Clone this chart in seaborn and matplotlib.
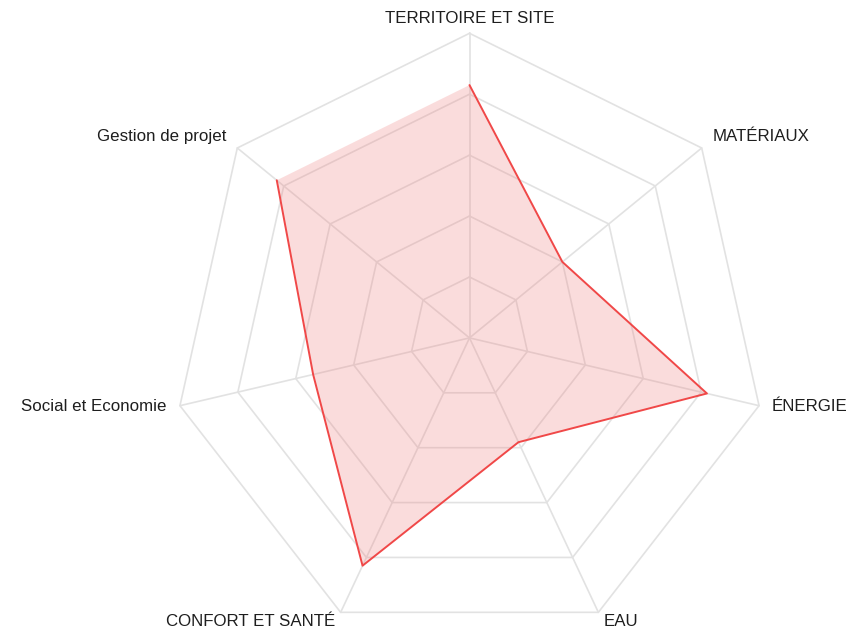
import numpy as np
import pandas as pd
import matplotlib
matplotlib.use("Agg")
import matplotlib.pyplot as plt
import seaborn as sns

# Scores per theme (percent of the maximum)
categories = ["TERRITOIRE ET SITE", "MATÉRIAUX", "ÉNERGIE", "EAU",
              "CONFORT ET SANTÉ", "Social et Economie", "Gestion de projet"]
scores = [83, 40, 82, 38, 83, 54, 83]
ring_levels = [20, 40, 60, 80, 100]

sns.set_theme(style="white")
plt.rcParams["font.family"] = ["Liberation Sans", "DejaVu Sans"]

W, H, DPI = 851, 633, 100
fig = plt.figure(figsize=(W / DPI, H / DPI), dpi=DPI)

# polar axes placed in pixels: centre (469.5, 337.9), radii 297 x 304.6
cx, cy, rx, ry = 469.5, 337.9, 297.0, 304.6
ax = fig.add_axes([(cx - rx) / W, (H - cy - ry) / H, 2 * rx / W, 2 * ry / H],
                  projection="polar")
ax.set_aspect("auto")
ax.set_theta_offset(np.pi / 2)
ax.set_theta_direction(-1)
ax.set_ylim(0, 100)
ax.grid(False)
ax.spines["polar"].set_visible(False)
ax.patch.set_alpha(0)

n = len(categories)
angles = np.linspace(0, 2 * np.pi, n, endpoint=False)
closed = np.append(angles, angles[0])

grid_color = "#e2e2e2"
for lvl in ring_levels:
    ax.plot(closed, [lvl] * (n + 1), color=grid_color, lw=1.2, clip_on=False, zorder=1)
for a in angles:
    ax.plot([a, a], [0, 100], color=grid_color, lw=1.2, clip_on=False, zorder=1)

df = pd.DataFrame({"theta": closed, "score": scores + scores[:1]})
ax.fill(df["theta"], df["score"], color="#f08080", alpha=0.27, lw=0, zorder=2)
sns.lineplot(data=df, x="theta", y="score", sort=False, ax=ax,
             color="#f04848", lw=1.4, zorder=3, clip_on=False)
ax.set_xlabel("")
ax.set_ylabel("")
ax.set_xticks([])
ax.set_yticks([])

# label placement around the outer ring
label_style = [
    ((0, 7), "center", "bottom"),
    ((11, 4), "left", "bottom"),
    ((13, -1), "left", "center"),
    ((5, -2), "left", "top"),
    ((-5, -2), "right", "top"),
    ((-13, -1), "right", "center"),
    ((-11, 4), "right", "bottom"),
]
for a, name, (off, ha, va) in zip(angles, categories, label_style):
    ax.annotate(name, xy=(a, 100), xytext=off, textcoords="offset pixels",
                ha=ha, va=va, fontsize=12.2, color="#1e1e1e", annotation_clip=False)

fig.savefig("out.png", dpi=DPI)
